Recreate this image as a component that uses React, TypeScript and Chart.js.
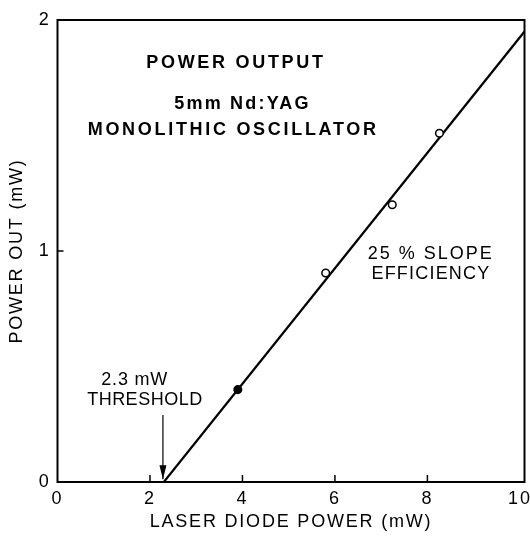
import React, { useEffect, useRef } from "react";
import { Chart, registerables } from "chart.js";

Chart.register(...registerables);

// Measured points (laser diode power mW, output power mW)
const measuredX = [3.9, 5.8, 7.24, 8.26];
const measuredY = [0.4, 0.905, 1.2, 1.51];
const measuredFill = ["#000000", "#ffffff", "#ffffff", "#ffffff"];

// Fitted slope-efficiency line
const fitX = [2.3, 10.1];
const fitY = [0, 1.95];

// Threshold arrow (x, y from, y to)
const arrowX = 2.28;
const arrowFromY = 0.29;
const arrowToY = 0.012;

const xTicks = [0, 2, 4, 6, 8, 10];
const yTicks = [0, 1, 2];

const xTitle = "LASER DIODE POWER (mW)";
const yTitle = "POWER OUT (mW)";

const titleLines = ["POWER OUTPUT", "5mm Nd:YAG", "MONOLITHIC OSCILLATOR"];
const slopeLines = ["25 % SLOPE", "EFFICIENCY"];
const thresholdLines = ["2.3 mW", "THRESHOLD"];

const FONT = "'Liberation Sans', Arial, sans-serif";

const decorPlugin = {
  id: "decor",
  beforeDraw(chart: any) {
    (chart.ctx as any).letterSpacing = "1.8px";
  },
  afterDraw(chart: any) {
    const ctx = chart.ctx;
    const { left, right, top, bottom } = chart.chartArea;
    const xs = chart.scales.x;
    const ys = chart.scales.y;
    ctx.save();
    // frame
    ctx.strokeStyle = "#000";
    ctx.lineWidth = 2;
    ctx.strokeRect(left, top, right - left, bottom - top);
    // inward ticks
    ctx.lineWidth = 1.5;
    xTicks.forEach((v) => {
      if (v === 0 || v === 10) return;
      const px = xs.getPixelForValue(v);
      ctx.beginPath();
      ctx.moveTo(px, bottom);
      ctx.lineTo(px, bottom - 7);
      ctx.stroke();
    });
    yTicks.forEach((v) => {
      if (v === 0 || v === 2) return;
      const py = ys.getPixelForValue(v);
      ctx.beginPath();
      ctx.moveTo(left, py);
      ctx.lineTo(left + 6, py);
      ctx.stroke();
    });
    // arrow
    const ax = xs.getPixelForValue(arrowX);
    const ay1 = ys.getPixelForValue(arrowFromY);
    const ay2 = ys.getPixelForValue(arrowToY);
    ctx.lineWidth = 1.2;
    ctx.beginPath();
    ctx.moveTo(ax, ay1);
    ctx.lineTo(ax, ay2);
    ctx.stroke();
    ctx.beginPath();
    ctx.moveTo(ax, ay2);
    ctx.lineTo(ax - 3.5, ay2 - 14);
    ctx.lineTo(ax + 3.5, ay2 - 14);
    ctx.closePath();
    ctx.fillStyle = "#000";
    ctx.fill();

    const put = (
      text: string,
      vx: number,
      vy: number,
      font: string,
      spacing: string,
      align: CanvasTextAlign
    ) => {
      ctx.font = font;
      (ctx as any).letterSpacing = spacing;
      ctx.textAlign = align;
      ctx.textBaseline = "middle";
      ctx.fillStyle = "#000";
      ctx.fillText(text, xs.getPixelForValue(vx), ys.getPixelForValue(vy));
    };
    const bold = `bold 18px ${FONT}`;
    const reg = `18px ${FONT}`;
    put(titleLines[0], 3.86, 1.815, bold, "2.7px", "center");
    put(titleLines[1], 4.0, 1.635, bold, "2.2px", "center");
    put(titleLines[2], 3.8, 1.525, bold, "2.7px", "center");
    put(slopeLines[0], 6.71, 0.985, reg, "2px", "left");
    put(slopeLines[1], 6.79, 0.9, reg, "1.2px", "left");
    put(thresholdLines[0], 1.67, 0.44, reg, "0.8px", "center");
    put(thresholdLines[1], 1.89, 0.354, reg, "0.5px", "center");
    ctx.restore();
  },
};

export default function App() {
  const ref = useRef<HTMLCanvasElement | null>(null);
  useEffect(() => {
    if (!ref.current) return;
    const chart = new Chart(ref.current, {
      type: "scatter",
      data: {
        datasets: [
          {
            label: "measured",
            data: measuredX.map((x, i) => ({ x, y: measuredY[i] })),
            showLine: false,
            pointRadius: 3.8,
            pointBorderWidth: 1.5,
            pointBorderColor: "#000",
            pointBackgroundColor: measuredFill,
          },
          {
            label: "fit",
            data: fitX.map((x, i) => ({ x, y: fitY[i] })),
            showLine: true,
            borderColor: "#000",
            borderWidth: 2.2,
            pointRadius: 0,
          },
        ],
      },
      options: {
        responsive: false,
        animation: false,
        layout: { padding: { left: 0, right: 5, top: 20, bottom: 0 } },
        plugins: {
          legend: { display: false },
          tooltip: { enabled: false },
        },
        scales: {
          x: {
            type: "linear",
            min: 0,
            max: 10.1,
            grid: { display: false, drawTicks: false },
            border: { display: false },
            ticks: {
              stepSize: 2,
              includeBounds: false,
              padding: 6,
              color: "#000",
              font: { family: FONT, size: 18 },
              maxRotation: 0,
            },
            title: {
              display: true,
              text: xTitle,
              color: "#000",
              font: { family: FONT, size: 18 },
              padding: { top: 0, bottom: 4 },
            },
            afterFit: (s: any) => {
              s.height = 55;
              s.paddingLeft = 0;
              s.paddingRight = 0;
            },
          },
          y: {
            type: "linear",
            min: 0,
            max: 2,
            grid: { display: false, drawTicks: false },
            border: { display: false },
            ticks: {
              stepSize: 1,
              padding: 7,
              color: "#000",
              font: { family: FONT, size: 18 },
            },
            title: {
              display: true,
              text: yTitle,
              color: "#000",
              font: { family: FONT, size: 18 },
              padding: { top: 6, bottom: 0 },
            },
            afterFit: (s: any) => {
              s.width = 57.5;
              s.paddingTop = 0;
              s.paddingBottom = 0;
            },
          },
        },
      },
      plugins: [decorPlugin],
    });
    return () => chart.destroy();
  }, []);
  return (
    <div style={{ position: "fixed", left: 0, top: 0, width: 530, height: 537, background: "#fff" }}>
      <canvas ref={ref} width={530} height={537} style={{ display: "block" }} />
    </div>
  );
}
